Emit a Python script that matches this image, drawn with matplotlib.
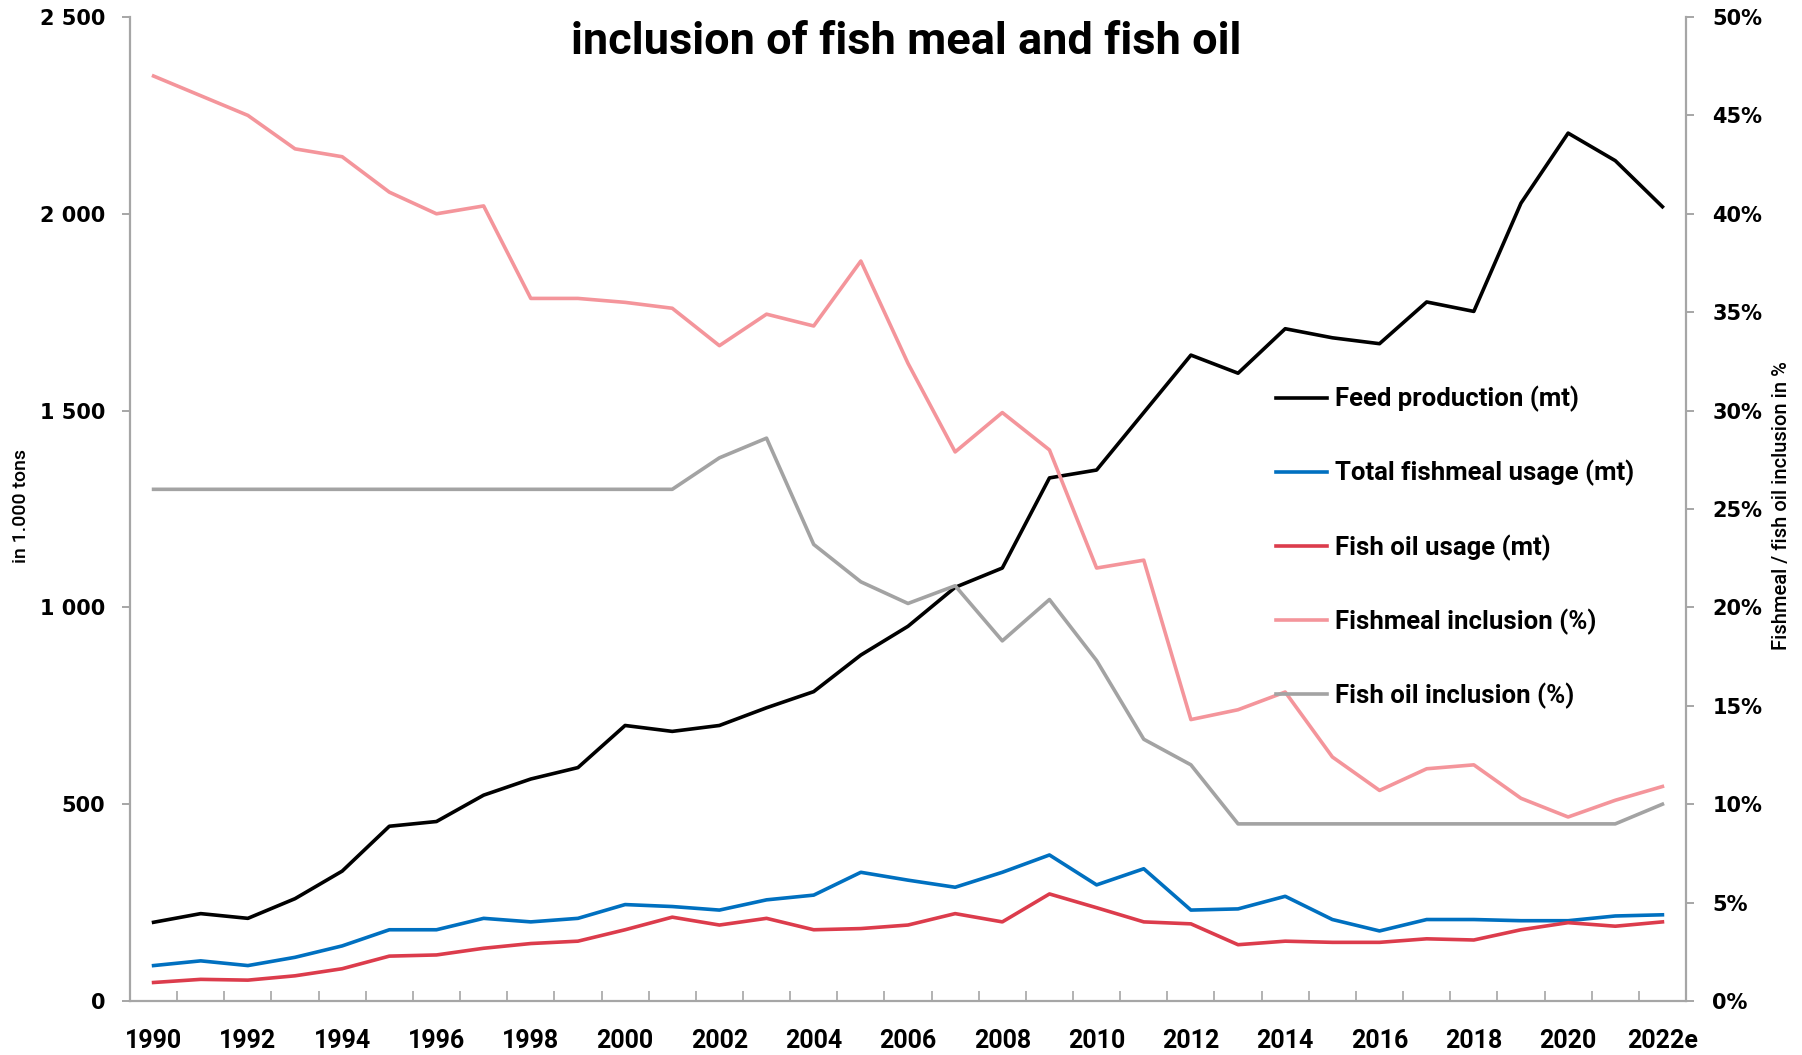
import matplotlib
matplotlib.use("Agg")
import matplotlib.pyplot as plt
from matplotlib.ticker import FixedLocator, FuncFormatter

years = [str(y) for y in range(1990, 2022)] + ["2022e"]

feed_production = [200, 222, 210, 260, 330, 444, 456, 523, 564, 593, 700, 685, 700, 745, 786,
                   879, 952, 1051, 1100, 1329, 1349, 1495, 1641, 1595, 1708, 1685, 1670, 1776,
                   1752, 2027, 2205, 2135, 2018]
fishmeal_usage = [90, 102, 90, 111, 140, 181, 181, 210, 201, 210, 245, 240, 231, 257, 269, 327,
                  307, 289, 327, 371, 295, 336, 231, 234, 266, 207, 178, 207, 207, 204, 204, 216, 219]
fishoil_usage = [47, 55, 53, 64, 82, 114, 117, 134, 146, 152, 181, 213, 193, 210, 181, 184, 193,
                 222, 201, 272, 237, 201, 196, 143, 152, 149, 149, 158, 155, 181, 199, 190, 201]
fishmeal_incl = [47.0, 46.0, 45.0, 43.3, 42.9, 41.1, 40.0, 40.4, 35.7, 35.7, 35.5, 35.2, 33.3,
                 34.9, 34.3, 37.6, 32.4, 27.9, 29.9, 28.0, 22.0, 22.4, 14.3, 14.8, 15.7, 12.4,
                 10.7, 11.8, 12.0, 10.3, 9.35, 10.2, 10.9]
fishoil_incl = [26.0] * 12 + [27.6, 28.6, 23.2, 21.3, 20.2, 21.1, 18.3, 20.4, 17.3, 13.3, 12.0] \
               + [9.0] * 9 + [10.0]

labels = ["Feed production (mt)", "Total fishmeal usage (mt)", "Fish oil usage (mt)",
          "Fishmeal inclusion (%)", "Fish oil inclusion (%)"]
colors = ["#000000", "#0070C0", "#DC3C4C", "#F4959B", "#A3A3A3"]

narrow = ["Roboto", "DejaVu Sans"]
axis_gray = "#A6A6A6"

fig = plt.figure(figsize=(18.02, 10.55), dpi=100)
ax = fig.add_axes([130 / 1802, 1 - 1001 / 1055, (1686 - 130) / 1802, (1001 - 17) / 1055])
ax2 = ax.twinx()

x = list(range(len(years)))
lw = 2.6
h1, = ax.plot(x, feed_production, color=colors[0], lw=lw, label=labels[0])
h2, = ax.plot(x, fishmeal_usage, color=colors[1], lw=lw, label=labels[1])
h3, = ax.plot(x, fishoil_usage, color=colors[2], lw=lw, label=labels[2])
h4, = ax2.plot(x, fishmeal_incl, color=colors[3], lw=lw, label=labels[3])
h5, = ax2.plot(x, fishoil_incl, color=colors[4], lw=lw, label=labels[4])

ax.set_xlim(-0.5, len(years) - 0.5)
ax.set_ylim(0, 2500)
ax2.set_ylim(0, 50)

for a in (ax, ax2):
    a.spines["top"].set_visible(False)
    for s in ("left", "right", "bottom"):
        a.spines[s].set_color(axis_gray)
        a.spines[s].set_linewidth(1.6)
ax.spines["right"].set_visible(False)
ax2.spines["left"].set_visible(False)
ax2.spines["bottom"].set_visible(False)

ax.set_yticks(range(0, 2501, 500))
ax.yaxis.set_major_formatter(FuncFormatter(lambda v, p: f"{int(v):,}".replace(",", " ")))
ax2.set_yticks(range(0, 51, 5))
ax2.yaxis.set_major_formatter(FuncFormatter(lambda v, p: f"{int(v)}%"))

ax.tick_params(axis="y", direction="out", length=6, width=1.4, color=axis_gray, pad=12,
               labelsize=15, labelcolor="black")
ax2.tick_params(axis="y", direction="out", length=6, width=1.4, color=axis_gray, pad=13,
                labelsize=15, labelcolor="black")
for t in ax.get_yticklabels() + ax2.get_yticklabels():
    t.set_fontweight("bold")
    t.set_family("DejaVu Sans")

ax.set_xticks(x[::2])
ax.set_xticklabels(years[::2], fontsize=18, fontweight="bold", family=narrow)
ax.xaxis.set_minor_locator(FixedLocator([i - 0.5 for i in range(len(years) + 1)]))
ax.tick_params(axis="x", which="major", length=0, pad=20)
ax.tick_params(axis="x", which="minor", direction="in", length=7, width=1.2, color=axis_gray)

fig.text(21 / 1802, 1 - 506 / 1055, "in 1.000 tons", rotation=90, ha="center", va="center",
         fontsize=14, fontweight="medium", family=narrow)
fig.text(1782 / 1802, 1 - 506 / 1055, "Fishmeal / fish oil inclusion in %", rotation=90,
         ha="center", va="center", fontsize=14.5, fontweight="medium", family=narrow)

fig.text(906 / 1802, 1 - 42 / 1055, "inclusion of fish meal and fish oil", ha="center",
         va="center", fontsize=32.5, fontweight="bold", family=narrow)

leg = ax2.legend(handles=[h1, h2, h3, h4, h5], loc="upper left",
                 bbox_to_anchor=(1276 / 1802, 1 - 386 / 1055), bbox_transform=fig.transFigure,
                 frameon=False, prop={"family": narrow, "weight": "bold", "size": 18.5},
                 handlelength=2.0, handletextpad=0.3, labelspacing=1.86, borderpad=0,
                 borderaxespad=0)

fig.savefig("out.png", dpi=100)
